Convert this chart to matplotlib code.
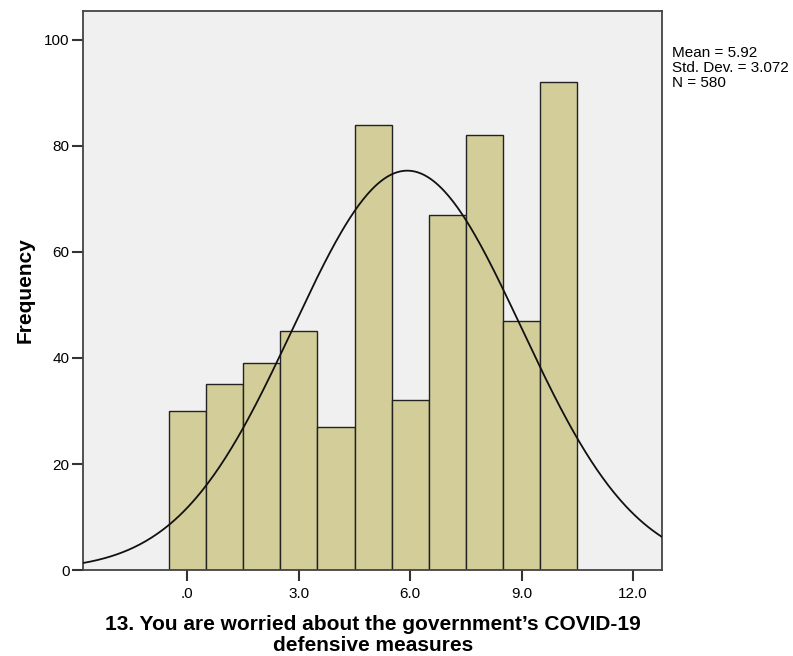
import numpy as np
import matplotlib.pyplot as plt

plt.rcParams['font.family'] = ['Liberation Sans', 'DejaVu Sans']

# 数据：取值 0..10 的频数
values = [0, 1, 2, 3, 4, 5, 6, 7, 8, 9, 10]
freqs = [30, 35, 39, 45, 27, 84, 32, 67, 82, 47, 92]
mean, sd, n = 5.92, 3.072, 580

x_ticks = [0, 3, 6, 9, 12]
x_ticklabels = ['.0', '3.0', '6.0', '9.0', '12.0']
y_ticks = [0, 20, 40, 60, 80, 100]

fig = plt.figure(figsize=(7.93, 6.56), dpi=100)
ax = fig.add_axes([0.105, 0.131, 0.730, 0.852])
ax.set_facecolor('#f0f0f0')

ax.bar(values, freqs, width=1.0, color='#d3ce99', edgecolor='#222222', linewidth=1.0, zorder=2)

# 正态曲线 (bin 宽度 = 1)
xs = np.linspace(-2.8, 12.78, 400)
ys = n / (sd * np.sqrt(2 * np.pi)) * np.exp(-0.5 * ((xs - mean) / sd) ** 2)
ax.plot(xs, ys, color='#111111', linewidth=1.3, zorder=3)

ax.set_xlim(-2.8, 12.78)
ax.set_ylim(0, 105.4)
ax.set_xticks(x_ticks)
ax.set_xticklabels(x_ticklabels)
ax.set_yticks(y_ticks)
ax.tick_params(direction='out', length=8, width=1.5, color='#333333', labelsize=11, pad=2)
ax.tick_params(axis='x', pad=4)
for s in ax.spines.values():
    s.set_color('#444444')
    s.set_linewidth(1.3)

ax.set_ylabel('Frequency', fontsize=15, fontweight='bold', labelpad=7)
ax.set_xlabel('13. You are worried about the government\u2019s COVID-19\ndefensive measures',
              fontsize=15, fontweight='bold', linespacing=1.17, labelpad=10)

fig.text(0.847, 0.896, 'Mean = 5.92\nStd. Dev. = 3.072\nN = 580', fontsize=11,
         va='center', ha='left', linespacing=1.1)

fig.savefig('out.png', dpi=100)
